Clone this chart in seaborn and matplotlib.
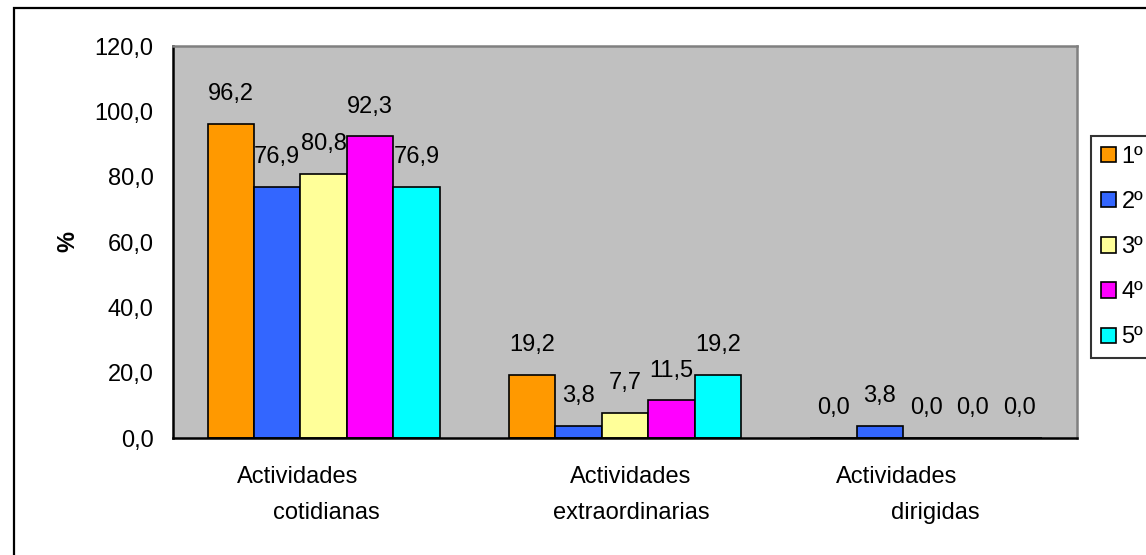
import pandas as pd
import matplotlib
matplotlib.use("Agg")
import matplotlib.pyplot as plt
import matplotlib.patches as mpatches
import seaborn as sns

# data
categorias = ["Actividades cotidianas", "Actividades extraordinarias", "Actividades dirigidas"]
cursos = ["1º", "2º", "3º", "4º", "5º"]
v1 = [96.2, 19.2, 0.0]
v2 = [76.9, 3.8, 3.8]
v3 = [80.8, 7.7, 0.0]
v4 = [92.3, 11.5, 0.0]
v5 = [76.9, 19.2, 0.0]
yticks = [0, 20, 40, 60, 80, 100, 120]

colores = ["#FF9900", "#3366FF", "#FFFF99", "#FF00FF", "#00FFFF"]

rows = []
for curso, vals in zip(cursos, [v1, v2, v3, v4, v5]):
    for cat, v in zip(categorias, vals):
        rows.append({"cat": cat, "curso": curso, "val": v})
df = pd.DataFrame(rows)

sns.set_style("white")
plt.rcParams['font.family'] = ['Liberation Sans', 'DejaVu Sans']
plt.rcParams['text.color'] = 'black'
plt.rcParams['axes.labelcolor'] = 'black'
plt.rcParams['xtick.color'] = 'black'
plt.rcParams['ytick.color'] = 'black'
FS = 17

fig = plt.figure(figsize=(11.46, 5.55), dpi=100)
ax = fig.add_axes([173/1146, 1 - 438/555, 904/1146, 392/555])

sns.barplot(data=df, x="cat", y="val", hue="curso", palette=colores,
            width=0.77, edgecolor="black", linewidth=1.2, errorbar=None,
            saturation=1, ax=ax)

# value labels above each bar
for cont in ax.containers:
    for bar, v in zip(cont, cont.datavalues):
        ax.annotate(f"{v:.1f}".replace(".", ","),
                    (bar.get_x() + bar.get_width()/2, bar.get_height()),
                    xytext=(0, 21.5), textcoords="offset points",
                    ha="center", va="center", fontsize=FS)

ax.set_facecolor("#C0C0C0")
ax.set_ylim(0, 120)
ax.set_xlim(-0.5, 2.5)
ax.set_yticks(yticks)
ax.set_yticklabels([f"{t:.1f}".replace(".", ",") for t in yticks], fontsize=FS)
ax.set_xticks([-0.5, 0.5, 1.5, 2.5])
ax.set_xticklabels([])
ax.tick_params(axis="both", direction="out", length=6, width=1.5, color="black")
ax.tick_params(axis="y", pad=8)
ax.set_xlabel("")
ax.set_ylabel("%", fontsize=FS, fontweight="bold")
ax.yaxis.set_label_coords(-0.104, 0.5)

for side in ["left", "bottom"]:
    ax.spines[side].set_color("black")
    ax.spines[side].set_linewidth(1.8)
for side in ["top", "right"]:
    ax.spines[side].set_color("#808080")
    ax.spines[side].set_linewidth(1.8)

# category labels, wrapped in two lines like the original
off1 = [-0.087, 0.02, -0.098]
off2 = [0.008, 0.02, 0.03]
for i, cat in enumerate(categorias):
    l1, l2 = cat.split(" ", 1)
    ax.text(i + off1[i], -0.1, l1, transform=ax.get_xaxis_transform(),
            ha="center", va="center", fontsize=FS)
    ax.text(i + off2[i], -0.191, l2, transform=ax.get_xaxis_transform(),
            ha="center", va="center", fontsize=FS)

if ax.get_legend():
    ax.get_legend().remove()
handles = [mpatches.Patch(facecolor=c, edgecolor="black", linewidth=1.2) for c in colores]
leg = fig.legend(handles, cursos, loc="upper left", bbox_to_anchor=(1091/1146, 1 - 136/555),
                 fontsize=FS, frameon=True, fancybox=False, borderaxespad=0,
                 handlelength=0.62, handleheight=0.62, handletextpad=0.25,
                 labelspacing=0.98, borderpad=0.42)
leg.get_frame().set_edgecolor("black")
leg.get_frame().set_linewidth(1.5)

# outer chart border
fig.patches.append(mpatches.Rectangle((14/1146, -0.2), 1.2, 1.2 - 8/555, fill=False,
                                      edgecolor="black", linewidth=1.6,
                                      transform=fig.transFigure, figure=fig))

fig.savefig("out.png", dpi=100)
